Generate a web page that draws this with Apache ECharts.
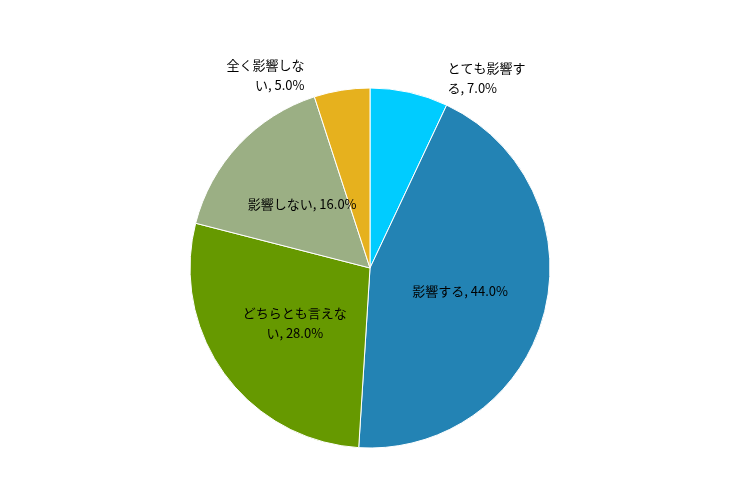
<!DOCTYPE html>
<html>
<head>
<meta charset="utf-8">
<script src="https://cdn.jsdelivr.net/npm/echarts@6/dist/echarts.min.js"></script>
<style>html,body{margin:0;background:#fff;}#main{width:742px;height:500px;}</style>
</head>
<body>
<div id="main"></div>
<script>
var categories = ['とても影響する', '影響する', 'どちらとも言えない', '影響しない', '全く影響しない'];
var values = [7.0, 44.0, 28.0, 16.0, 5.0];
var colors = ['#00CCFF', '#2383B4', '#669900', '#9BAF84', '#E6B11E'];
var labelTexts = ['とても影響す\nる, 7.0%', '影響する, 44.0%', 'どちらとも言えな\nい, 28.0%', '影響しない, 16.0%', '全く影響しな\nい, 5.0%'];

var myChart = echarts.init(document.getElementById('main'));
var data = categories.map(function (c, i) {
    var item = { name: c, value: values[i], itemStyle: { color: colors[i] } };
    if (values[i] < 10) {
        item.label = { position: 'outside', distance: 8 };
    }
    return item;
});
var option = {
    textStyle: { fontFamily: 'Noto Sans CJK JP' },
    series: [{
        type: 'pie',
        center: [370, 268],
        radius: 180,
        startAngle: 90,
        clockwise: true,
        animation: false,
        label: {
            position: 'inside',
            color: '#000',
            fontSize: 13,
            lineHeight: 20,
            align: 'left',
            formatter: function (p) { return labelTexts[p.dataIndex]; }
        },
        labelLine: { show: false },
        itemStyle: { borderColor: '#fff', borderWidth: 1 },
        data: data
    }]
};
myChart.setOption(option);
window.addEventListener('resize', myChart.resize);
</script>
</body>
</html>
